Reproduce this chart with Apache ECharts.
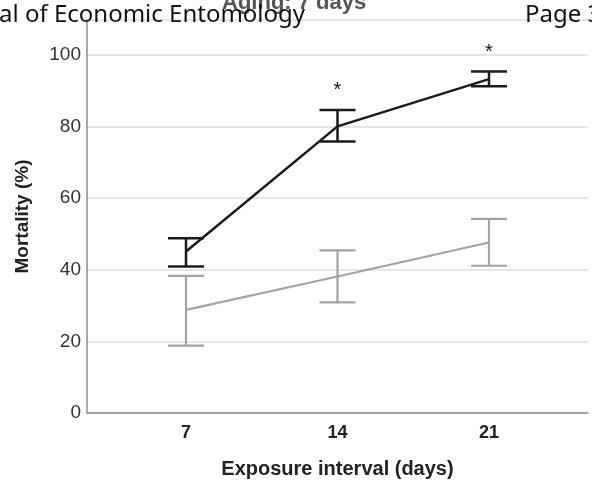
<!DOCTYPE html>
<html><head><meta charset="utf-8">
<script src="https://cdn.jsdelivr.net/npm/echarts@6/dist/echarts.min.js"></script>
<style>html,body{margin:0;padding:0;background:#fff}#c{width:592px;height:487px}</style>
</head><body><div id="c"></div>
<script>
const days = [7, 14, 21];
const xTickLabels = ['7', '14', '21'];
const yTicks = [0, 20, 40, 60, 80, 100];
const treatedMean = [45.1, 80.0, 93.2];
const treatedLow = [40.9, 75.8, 91.2];
const treatedHigh = [48.8, 84.6, 95.3];
const controlMean = [28.8, 38.1, 47.6];
const controlLow = [18.8, 30.9, 41.1];
const controlHigh = [38.3, 45.4, 54.2];
const significance = ['', '*', '*'];

const chart = echarts.init(document.getElementById('c'));
function errSeries(low, high, color, width) {
  return {
    type: 'custom',
    silent: true,
    z: 3,
    data: days.map((d, i) => [d, low[i], high[i]]),
    renderItem: function (params, api) {
      const x = api.value(0);
      const lo = api.coord([x, api.value(1)]);
      const hi = api.coord([x, api.value(2)]);
      const hw = 18;
      const st = { stroke: color, lineWidth: width };
      return { type: 'group', children: [
        { type: 'line', shape: { x1: lo[0], y1: lo[1], x2: hi[0], y2: hi[1] }, style: st },
        { type: 'line', shape: { x1: lo[0] - hw, y1: lo[1], x2: lo[0] + hw, y2: lo[1] }, style: st },
        { type: 'line', shape: { x1: hi[0] - hw, y1: hi[1], x2: hi[0] + hw, y2: hi[1] }, style: st }
      ]};
    }
  };
}
chart.setOption({
  animation: false,
  grid: { left: 87, right: 4, top: 20, bottom: 74, containLabel: false, outerBoundsMode: 'none' },
  xAxis: {
    type: 'value', min: 2.425, max: 25.575,
    name: 'Exposure interval (days)', nameLocation: 'middle', nameGap: 46,
    nameTextStyle: { fontFamily: 'Liberation Sans', fontWeight: 'bold', fontSize: 20, color: '#222' },
    axisLine: { lineStyle: { color: '#8c8c8c', width: 1.5 } },
    axisTick: { show: false },
    splitLine: { show: false },
    axisLabel: { customValues: days, formatter: v => xTickLabels[days.indexOf(v)] || '',
      fontFamily: 'Liberation Sans', fontWeight: 'bold', fontSize: 18, color: '#222', margin: 11 }
  },
  yAxis: {
    type: 'value', min: 0, max: 109.7,
    name: 'Mortality (%)', nameLocation: 'middle', nameGap: 55,
    nameTextStyle: { fontFamily: 'Liberation Sans', fontWeight: 'bold', fontSize: 19, color: '#222' },
    axisLine: { show: true, lineStyle: { color: '#8c8c8c', width: 1.5 } },
    axisTick: { show: false },
    axisLabel: { customValues: yTicks, fontFamily: 'Liberation Sans', fontSize: 19, color: '#333', margin: 6 },
    splitLine: { show: true, lineStyle: { color: '#dcdcdc', width: 1.5 } }
  },
  graphic: [
    { type: 'text', left: 222, top: -8, z: 1, style: { text: 'Aging: 7 days', font: 'bold 22px "Liberation Sans"', fill: '#555' } },
    { type: 'text', left: -1, top: 3, z: 10, style: { text: 'al of Economic Entomology', font: '24px "Noto Sans"', fill: '#111' } },
    { type: 'text', left: 525, top: 3, z: 10, style: { text: 'Page 3', font: '24px "Noto Sans"', fill: '#111' } }
  ],
  series: [
    errSeries(controlLow, controlHigh, '#a3a3a3', 2.2),
    errSeries(treatedLow, treatedHigh, '#1a1a1a', 2.5),
    { type: 'line', data: days.map((d, i) => [d, controlMean[i]]), showSymbol: false, z: 4,
      lineStyle: { color: '#a3a3a3', width: 2.2 } },
    { type: 'line', data: days.map((d, i) => [d, treatedMean[i]]), showSymbol: false, z: 4,
      lineStyle: { color: '#1a1a1a', width: 2.5 } },
    { type: 'custom', silent: true, z: 5,
      data: days.map((d, i) => [d, treatedHigh[i], i]),
      renderItem: function (params, api) {
        const p = api.coord([api.value(0), api.value(1)]);
        const s = significance[api.value(2)];
        return { type: 'text', style: { text: s, x: p[0], y: p[1] - 19, align: 'center', verticalAlign: 'middle',
          font: '20px "Liberation Sans"', fill: '#111' } };
      } }
  ]
});
</script></body></html>
